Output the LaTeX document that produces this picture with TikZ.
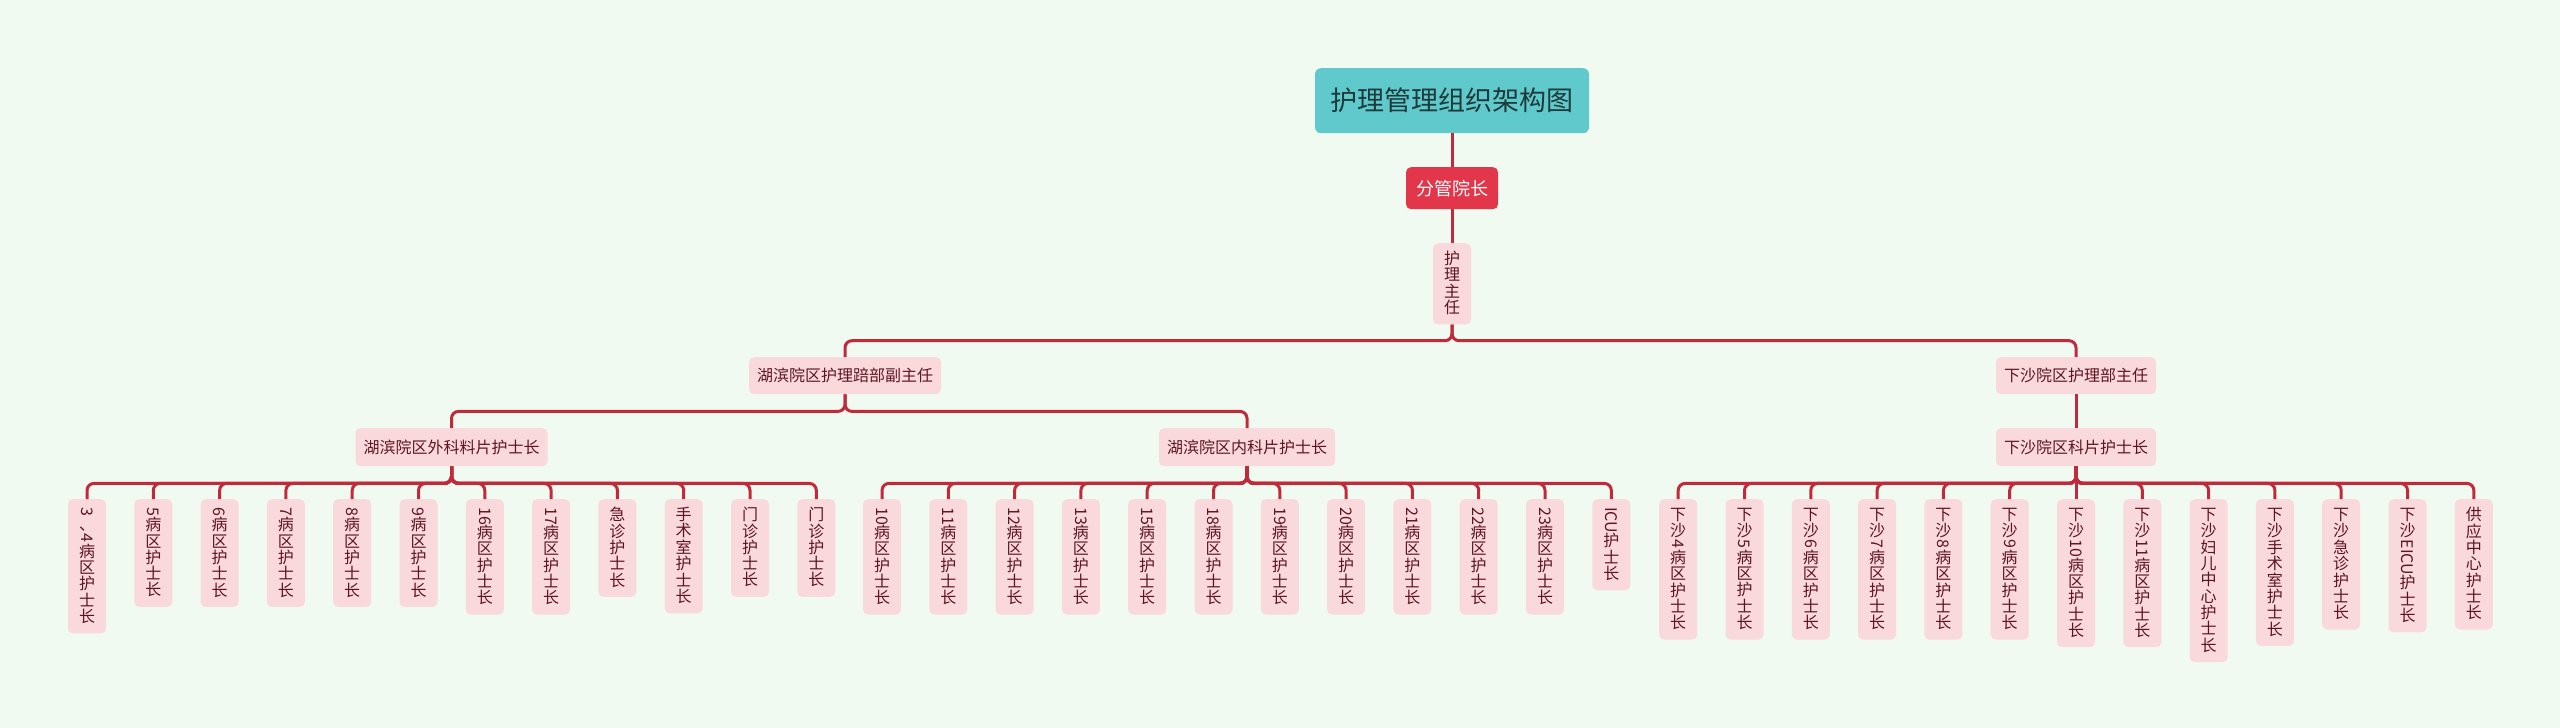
\documentclass[tikz,border=0pt]{standalone}
\usepackage{fontspec}
\setmainfont{Noto Sans CJK SC}
\usepackage{graphicx}
\definecolor{bgc}{HTML}{F0FAF0}
\definecolor{rootc}{HTML}{5FC9CB}
\definecolor{roottext}{HTML}{1E3A3B}
\definecolor{redc}{HTML}{E2364A}
\definecolor{pinkc}{HTML}{FAD9DD}
\definecolor{textc}{HTML}{5E1521}
\definecolor{linec}{HTML}{C22A3C}
\makeatletter
\def\vt@end{\vt@end}
\newcommand\vtrot{}
\newcommand\vtext[1]{\vbox{\offinterlineskip\vt@loop#1\vt@end}}
\def\vt@loop#1{%
  \ifx#1\vt@end\expandafter\@gobble\else\expandafter\@firstofone\fi
  {\ifx#1\vtrot\expandafter\vt@rot\else\vt@up{#1}\expandafter\vt@loop\fi}}
\def\vt@up#1{\hbox to 1em{\hss\vrule height .84em depth .18em width 0pt #1\hss}}
\def\vt@rot#1{\hbox to 1em{\hss\rotatebox[origin=c]{-90}{#1}\hss}\vt@loop}
\makeatother
\tikzset{
  rootbox/.style={fill=rootc, rounded corners=6pt, text=roottext, anchor=north,
    font=\fontsize{27}{32}\selectfont, minimum width=274pt, minimum height=65pt, inner sep=0pt},
  redbox/.style={fill=redc, rounded corners=5pt, text=white, anchor=north,
    font=\fontsize{18}{22}\selectfont, minimum width=92pt, minimum height=42pt, inner sep=0pt},
  hbox/.style={fill=pinkc, rounded corners=5pt, text=textc, anchor=north,
    font=\fontsize{16}{19}\selectfont, inner xsep=8pt, inner ysep=0pt, minimum height=37pt},
  leafbox/.style={fill=pinkc, rounded corners=5pt, text=textc, anchor=north,
    font=\fontsize{16}{19}\selectfont, inner xsep=0pt, inner ysep=8pt, minimum width=38pt},
  conn/.style={draw=linec, line width=3pt, rounded corners=7pt},
}
\begin{document}
\begin{tikzpicture}[x=1pt,y=-1pt]
\fill[bgc] (0,0) rectangle (2560,728);
\useasboundingbox (0,0) rectangle (2560,728);

\node[rootbox] (root) at (1452,68) {护理管理组织架构图};
\node[redbox] (vp) at (1452,167) {分管院长};
\node[leafbox] (dir) at (1452,243) {\vtext{护理主任}};
\node[hbox] (hb) at (845,357) {湖滨院区护理踣部副主任};
\node[hbox] (xs) at (2076,357) {下沙院区护理部主任};
\node[hbox, minimum height=38pt] (wk) at (451.5,428) {湖滨院区外科料片护士长};
\node[hbox, minimum height=38pt] (nk) at (1247,428) {湖滨院区内科片护士长};
\node[hbox, minimum height=38pt] (xk) at (2076,428) {下沙院区科片护士长};

\draw[conn] (root.south) -- (vp.north);
\draw[conn] (vp.south) -- (dir.north);
\draw[conn] (dir.south) -- ++(0,16) -| (hb.north);
\draw[conn] (dir.south) -- ++(0,16) -| (xs.north);
\draw[conn] (hb.south) -- ++(0,17) -| (wk.north);
\draw[conn] (hb.south) -- ++(0,17) -| (nk.north);
\draw[conn] (xs.south) -- (xk.north);

\foreach \t [count=\i from 0] in {%
  {\vtrot{3}、\vtrot{4}病区护士长},{\vtrot{5}病区护士长},{\vtrot{6}病区护士长},
  {\vtrot{7}病区护士长},{\vtrot{8}病区护士长},{\vtrot{9}病区护士长},
  {\vtrot{16}病区护士长},{\vtrot{17}病区护士长},{急诊护士长},
  {手术室护士长},{门诊护士长},{门诊护士长}} {
  \node[leafbox] (a\i) at ({87+66.3*\i},499) {\expandafter\vtext\expandafter{\t}};
  \draw[conn] (wk.south) -- ++(0,17) -| (a\i.north);
}

\foreach \t [count=\i from 0] in {%
  {\vtrot{10}病区护士长},{\vtrot{11}病区护士长},{\vtrot{12}病区护士长},
  {\vtrot{13}病区护士长},{\vtrot{15}病区护士长},{\vtrot{18}病区护士长},
  {\vtrot{19}病区护士长},{\vtrot{20}病区护士长},{\vtrot{21}病区护士长},
  {\vtrot{22}病区护士长},{\vtrot{23}病区护士长},{\vtrot{ICU}护士长}} {
  \node[leafbox] (b\i) at ({882+66.3*\i},499) {\expandafter\vtext\expandafter{\t}};
  \draw[conn] (nk.south) -- ++(0,17) -| (b\i.north);
}

\foreach \t [count=\i from 0] in {%
  {下沙\vtrot{4}病区护士长},{下沙\vtrot{5}病区护士长},{下沙\vtrot{6}病区护士长},
  {下沙\vtrot{7}病区护士长},{下沙\vtrot{8}病区护士长},{下沙\vtrot{9}病区护士长},
  {下沙\vtrot{10}病区护士长},{下沙\vtrot{11}病区护士长},{下沙妇儿中心护士长},
  {下沙手术室护士长},{下沙急诊护士长},{下沙\vtrot{EICU}护士长},{供应中心护士长}} {
  \node[leafbox] (c\i) at ({2076+66.3*(\i-6)},499) {\expandafter\vtext\expandafter{\t}};
  \ifnum\i=6
    \draw[conn] (xk.south) -- (c\i.north);
  \else
    \draw[conn] (xk.south) -- ++(0,17) -| (c\i.north);
  \fi
}
\end{tikzpicture}
\end{document}
